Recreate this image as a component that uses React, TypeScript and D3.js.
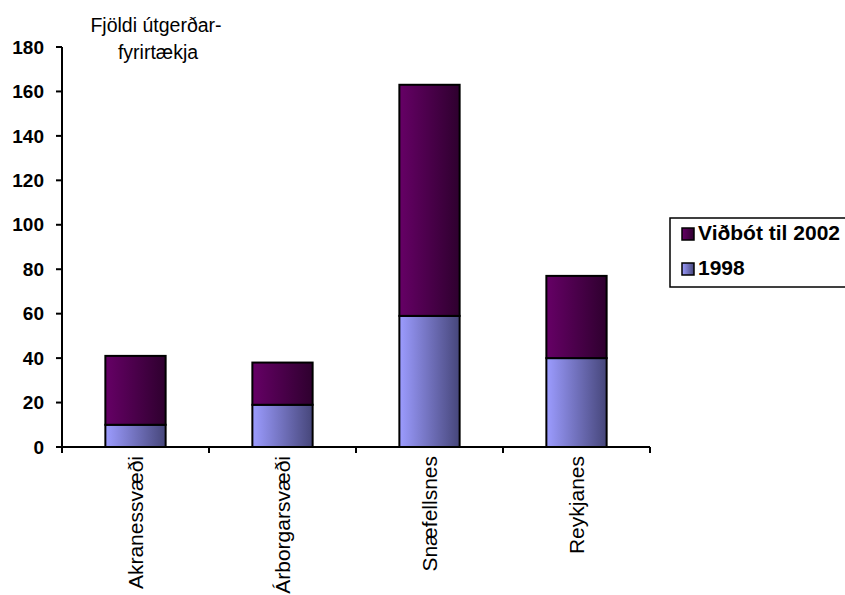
import React from "react";
import * as d3 from "d3";

const categories = ["Akranessvæði", "Árborgarsvæði", "Snæfellsnes", "Reykjanes"];
const values1998 = [10, 19, 59, 40];
const valuesAdded = [31, 19, 104, 37];
const seriesNames = ["1998", "Viðbót til 2002"];
const yTicks = [0, 20, 40, 60, 80, 100, 120, 140, 160, 180];
const titleLines = ["Fjöldi útgerðar-", "fyrirtækja"];

const W = 845;
const H = 595;
const left = 62;
const right = 650;
const top = 47;
const bottom = 447;
const FONT = "Arial, 'Liberation Sans', sans-serif";

export default function App() {
  const rows = categories.map((c, i) => ({ cat: c, a: values1998[i], b: valuesAdded[i] }));
  const stack = d3.stack<any>().keys(["a", "b"]);
  const series = stack(rows);

  const x = d3.scaleBand<string>().domain(categories).range([left, right]).paddingInner(0.59).paddingOuter(0.295);
  const step = x.step();
  const y = d3.scaleLinear().domain([0, 180]).range([bottom, top]);

  const fills = ["url(#g1998)", "url(#gAdd)"];
  const legendOrder = [1, 0];

  return (
    <svg width={W} height={H} style={{ position: "absolute", left: 0, top: 0, background: "#fff" }}>
      <defs>
        <linearGradient id="g1998" x1="0" y1="0" x2="1" y2="0">
          <stop offset="0" stopColor="#9c9cff" />
          <stop offset="1" stopColor="#46467a" />
        </linearGradient>
        <linearGradient id="gAdd" x1="0" y1="0" x2="1" y2="0">
          <stop offset="0" stopColor="#660066" />
          <stop offset="1" stopColor="#2e002e" />
        </linearGradient>
      </defs>

      {/* title */}
      <text fontFamily={FONT} fontSize={19.5} textAnchor="middle" fill="#000">
        <tspan x={156} y={32}>{titleLines[0]}</tspan>
        <tspan x={158} y={59}>{titleLines[1]}</tspan>
      </text>

      {/* bars */}
      {series.map((s, si) =>
        s.map((d, i) => (
          <rect
            key={`${si}-${i}`}
            x={x(categories[i])!}
            y={y(d[1])}
            width={x.bandwidth()}
            height={y(d[0]) - y(d[1])}
            fill={fills[si]}
            stroke="#000"
            strokeWidth={2}
          />
        ))
      )}

      {/* y axis */}
      <line x1={left} y1={top} x2={left} y2={bottom} stroke="#000" strokeWidth={2} />
      {yTicks.map((t) => (
        <g key={t}>
          <line x1={left - 6} x2={left} y1={y(t)} y2={y(t)} stroke="#000" strokeWidth={2} />
          <text x={44} y={y(t)} dy="0.35em" textAnchor="end" fontFamily={FONT} fontWeight="bold" fontSize={19}>
            {t}
          </text>
        </g>
      ))}

      {/* x axis */}
      <line x1={left} y1={bottom} x2={right} y2={bottom} stroke="#000" strokeWidth={2} />
      {d3.range(categories.length + 1).map((i) => (
        <line key={i} x1={left + i * step} x2={left + i * step} y1={bottom} y2={bottom + 6} stroke="#000" strokeWidth={2} />
      ))}
      {categories.map((c) => {
        const cx = x(c)! + x.bandwidth() / 2;
        return (
          <text
            key={c}
            transform={`translate(${cx + 7.5},${456}) rotate(-90)`}
            textAnchor="end"
            fontFamily={FONT}
            fontSize={21}
          >
            {c}
          </text>
        );
      })}

      {/* legend */}
      <rect x={670} y={218} width={190} height={69} fill="#fff" stroke="#000" strokeWidth={1.5} />
      {legendOrder.map((si, k) => (
        <g key={si}>
          <rect x={682} y={228 + k * 35} width={12} height={12} fill={fills[si]} stroke="#000" strokeWidth={1.5} />
          <text x={698} y={240 + k * 35} fontFamily={FONT} fontWeight="bold" fontSize={21}>
            {seriesNames[si]}
          </text>
        </g>
      ))}
    </svg>
  );
}
